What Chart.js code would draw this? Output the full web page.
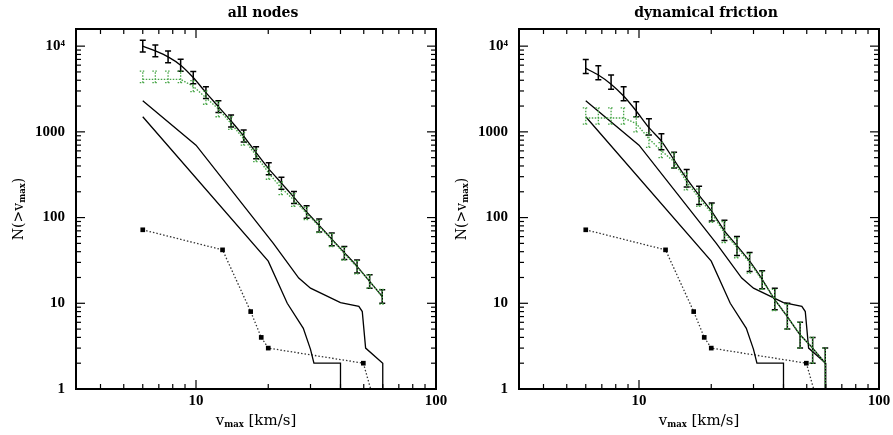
<!DOCTYPE html>
<html>
<head>
<meta charset="utf-8">
<script src="https://cdn.jsdelivr.net/npm/chart.js@4.4.0/dist/chart.umd.min.js"></script>
<style>
  html, body { margin: 0; background: #fff; overflow: hidden; }
  #wrap { position: relative; width: 893px; height: 435px; }
  .panel { position: absolute; top: 0; }
</style>
</head>
<body>
<div id="wrap">
  <canvas id="chart-all" class="panel" width="456" height="435" style="left:0px"></canvas>
  <canvas id="chart-df" class="panel" width="456" height="435" style="left:443px"></canvas>
</div>
<script>
// v_max bins shared by both panels (km/s)
const vBins = [6.0, 6.77, 7.65, 8.63, 9.74, 11.0, 12.4, 14.0, 15.8, 17.8, 20.1, 22.7, 25.6, 28.9, 32.6, 36.8, 41.5, 46.9, 52.9, 59.7];

// "all nodes" panel
const allN    = [10000, 8800, 7500, 6000, 4300, 2870, 1970, 1340, 893, 571, 370, 252, 172, 116, 81, 56, 39, 27, 18, 12];
const allLo   = [8550, 7500, 6400, 5100, 3650, 2450, 1680, 1140, 760, 485, 315, 214, 146, 98, 68, 47, 32.5, 22.5, 15, 10];
const allHi   = [11700, 10300, 8800, 7050, 5050, 3370, 2310, 1570, 1050, 670, 435, 296, 202, 137, 96, 66, 46, 32, 21.5, 14.4];
const allG    = [4100, 4100, 4100, 4100, 3400, 2500, 1850, 1250, 830, 530, 330, 220, 160, 112, 79, 55, 38, 26.5, 18, 12];
const allGLo  = [3750, 3750, 3750, 3750, 2950, 2100, 1500, 1070, 700, 450, 280, 185, 135, 95, 67, 46, 32, 22, 15, 9.8];
const allGHi  = [5100, 5100, 5100, 5100, 3950, 3000, 2250, 1500, 980, 630, 390, 260, 190, 132, 93, 65, 45, 31.5, 21.5, 14.5];

// "dynamical friction" panel
const dfN     = [5500, 4600, 3600, 2620, 1750, 1120, 780, 470, 285, 182, 118, 70, 47, 31, 19, 11, 7, 4.3, 3, 2];
const dfLo    = [4800, 4050, 3150, 2300, 1500, 920, 620, 380, 228, 142, 91, 54, 36, 23.5, 14.8, 8.4, 5, 3, 2, 0.9];
const dfHi    = [7000, 5900, 4600, 3350, 2250, 1420, 950, 580, 365, 232, 148, 93, 60, 39, 24, 15, 10, 6, 4, 3];
const dfG     = [1450, 1450, 1450, 1450, 1250, 830, 600, 450, 260, 170, 112, 66, 45, 30, 18.5, 11, 7, 4.3, 3, 2];
const dfGLo   = [1230, 1230, 1230, 1230, 1000, 660, 500, 380, 210, 135, 88, 51, 34, 22.5, 14.5, 8.2, 5, 3, 2, 0.9];
const dfGHi   = [1900, 1900, 1900, 1900, 1500, 980, 750, 570, 330, 215, 142, 90, 58, 38, 23.5, 14.5, 9.8, 6, 4, 3];

// curves common to both panels
const curveAv = [6, 10, 21, 26.8, 30, 40, 47.7, 49.3, 50.9, 60, 60];
const curveAN = [2300, 700, 50, 19.7, 15, 10.2, 9.2, 8, 3, 2, 0.5];
const curveBv = [6, 20, 24, 28, 30, 31, 40, 40];
const curveBN = [1500, 31, 10, 5.1, 2.9, 2, 2, 0.5];
const dotV    = [6, 12.9, 16.9, 18.7, 20, 49.8, 54];
const dotN    = [72, 42, 8, 4, 3, 2, 0.9];

// axes
const xLabelTicks = [10, 100];
const xMinorTicks = [4, 5, 6, 7, 8, 9, 20, 30, 40, 50, 60, 70, 80, 90];
const yLabelTicks = [1, 10, 100, 1000, 10000];
const yTickText   = ['1', '10', '100', '1000', '10\u2074'];
const yMinorTicks = [2, 3, 4, 5, 6, 7, 8, 9, 20, 30, 40, 50, 60, 70, 80, 90,
                     200, 300, 400, 500, 600, 700, 800, 900, 2000, 3000, 4000, 5000, 6000, 7000, 8000, 9000];

const TICK_FONT = 'Liberation Serif';
const TEXT_FONT = 'DejaVu Serif';
const GREEN = 'rgb(70,165,70)';

const pts = (xs, ys) => xs.map((v, i) => ({ x: v, y: ys[i] }));

// error bars, drawn through the scales
const errorBars = {
    id: 'errorBars',
    afterDatasetsDraw(chart) {
        const { ctx, chartArea: a, scales: { x, y } } = chart;
        ctx.save();
        ctx.beginPath();
        ctx.rect(a.left, a.top, a.width, a.height);
        ctx.clip();
        const list = chart.data.datasets.slice().reverse();
        list.forEach(ds => {
            if (!ds.errLo) return;
            ctx.strokeStyle = ds.borderColor;
            ctx.lineWidth = ds.errWidth || 1.3;
            ctx.setLineDash(ds.errDash || []);
            ds.data.forEach((p, j) => {
                const px = x.getPixelForValue(p.x);
                const lo = y.getPixelForValue(ds.errLo[j]);
                const hi = y.getPixelForValue(ds.errHi[j]);
                ctx.beginPath();
                ctx.moveTo(px, lo); ctx.lineTo(px, hi);
                ctx.moveTo(px - 3, lo); ctx.lineTo(px + 3, lo);
                ctx.moveTo(px - 3, hi); ctx.lineTo(px + 3, hi);
                ctx.stroke();
            });
        });
        ctx.restore();
    }
};

// box frame, inward ticks on all sides, titles with subscripts
const frame = {
    id: 'frame',
    afterDraw(chart) {
        const { ctx, chartArea: a, scales: { x, y } } = chart;
        const seg = (x1, y1, x2, y2) => { ctx.beginPath(); ctx.moveTo(x1, y1); ctx.lineTo(x2, y2); ctx.stroke(); };
        ctx.save();
        ctx.strokeStyle = '#000';
        ctx.lineWidth = 1.2;
        xMinorTicks.forEach(v => { const p = x.getPixelForValue(v); seg(p, a.bottom, p, a.bottom - 5); seg(p, a.top, p, a.top + 5); });
        xLabelTicks.forEach(v => { const p = x.getPixelForValue(v); seg(p, a.bottom, p, a.bottom - 9); seg(p, a.top, p, a.top + 9); });
        yMinorTicks.forEach(v => { const p = y.getPixelForValue(v); seg(a.left, p, a.left + 5, p); seg(a.right, p, a.right - 5, p); });
        yLabelTicks.forEach(v => { const p = y.getPixelForValue(v); seg(a.left, p, a.left + 9, p); seg(a.right, p, a.right - 9, p); });
        ctx.lineWidth = 2;
        ctx.strokeRect(a.left, a.top, a.width, a.height);

        ctx.fillStyle = '#000';
        ctx.textBaseline = 'middle';
        // panel title
        ctx.font = `bold 14px "${TEXT_FONT}"`;
        ctx.textAlign = 'center';
        ctx.fillText(chart.options.plugins.frame.title, (a.left + a.right) / 2 + 7, 13);

        // x title: v_max [km/s]
        const big = `15px "${TEXT_FONT}"`, small = `bold 8.5px "${TEXT_FONT}"`;
        ctx.textAlign = 'left';
        ctx.font = big; const w1 = ctx.measureText('v').width, w3 = ctx.measureText(' [km/s]').width;
        ctx.font = small; const w2 = ctx.measureText('max').width;
        const xs = (a.left + a.right) / 2 - (w1 + w2 + w3) / 2;
        const yb = 421;
        ctx.font = big; ctx.fillText('v', xs, yb);
        ctx.font = small; ctx.fillText('max', xs + w1, yb + 4);
        ctx.font = big; ctx.fillText(' [km/s]', xs + w1 + w2, yb);

        // y title: N(>v_max), rotated; subscript sits toward the plot
        const bigY = `14px "${TEXT_FONT}"`;
        ctx.save();
        ctx.translate(19, (a.top + a.bottom) / 2);
        ctx.rotate(-Math.PI / 2);
        ctx.font = bigY; const u1 = ctx.measureText('N(>v').width, u3 = ctx.measureText(')').width;
        ctx.font = small; const u2 = ctx.measureText('max').width;
        const ys = -(u1 + u2 + u3) / 2;
        ctx.font = bigY; ctx.fillText('N(>v', ys, 0);
        ctx.font = small; ctx.fillText('max', ys + u1, 4);
        ctx.font = bigY; ctx.fillText(')', ys + u1 + u2, 0);
        ctx.restore();
        ctx.restore();
    }
};

function makePanel(id, title, n, lo, hi, g, gLo, gHi) {
    return new Chart(document.getElementById(id), {
        type: 'line',
        data: {
            datasets: [
                {   // green dotted with error bars (on top)
                    data: pts(vBins, g), errLo: gLo, errHi: gHi, errDash: [1.5, 1.5], errWidth: 1.3,
                    borderColor: GREEN, borderWidth: 1.4, borderDash: [1.5, 1.5], pointRadius: 0, tension: 0
                },
                {   // black with error bars
                    data: pts(vBins, n), errLo: lo, errHi: hi, errWidth: 1.5,
                    borderColor: '#000', borderWidth: 1.3, pointRadius: 0, tension: 0.2
                },
                {
                    data: pts(curveAv, curveAN),
                    borderColor: '#000', borderWidth: 1.3, pointRadius: 0, tension: 0
                },
                {
                    data: pts(curveBv, curveBN),
                    borderColor: '#000', borderWidth: 1.3, pointRadius: 0, tension: 0
                },
                {
                    data: pts(dotV, dotN),
                    borderColor: '#333', borderWidth: 1.3, borderDash: [1.5, 2],
                    pointStyle: 'rect', pointRadius: [3.3, 3.3, 3.3, 3.3, 3.3, 3.3, 0],
                    pointBackgroundColor: '#000', pointBorderColor: '#000', pointBorderWidth: 0, tension: 0
                }
            ]
        },
        options: {
            responsive: false,
            animation: false,
            events: [],
            layout: { padding: { top: 29, right: 20, left: 0, bottom: 0 } },
            plugins: { legend: { display: false }, tooltip: { enabled: false }, frame: { title } },
            scales: {
                x: {
                    type: 'logarithmic', min: Math.sqrt(10), max: 100,
                    grid: { display: false, tickLength: 0 }, border: { display: false },
                    afterBuildTicks: s => { s.ticks = xLabelTicks.map(v => ({ value: v })); },
                    afterFit: s => { s.height = 46; },
                    ticks: { color: '#000', font: { family: TICK_FONT, size: 15, weight: 'bold' }, padding: 3, maxRotation: 0, autoSkip: false,
                             callback: v => String(v) }
                },
                y: {
                    type: 'logarithmic', min: 1, max: 15849,
                    grid: { display: false, tickLength: 0 }, border: { display: false },
                    afterBuildTicks: s => { s.ticks = yLabelTicks.map(v => ({ value: v })); },
                    afterFit: s => { s.width = 76; },
                    ticks: { color: '#000', font: { family: TICK_FONT, size: 15, weight: 'bold' }, padding: 11, autoSkip: false,
                             callback: v => yTickText[yLabelTicks.indexOf(v)] }
                }
            }
        },
        plugins: [errorBars, frame]
    });
}

makePanel('chart-all', 'all nodes', allN, allLo, allHi, allG, allGLo, allGHi);
makePanel('chart-df', 'dynamical friction', dfN, dfLo, dfHi, dfG, dfGLo, dfGHi);
</script>
</body>
</html>
